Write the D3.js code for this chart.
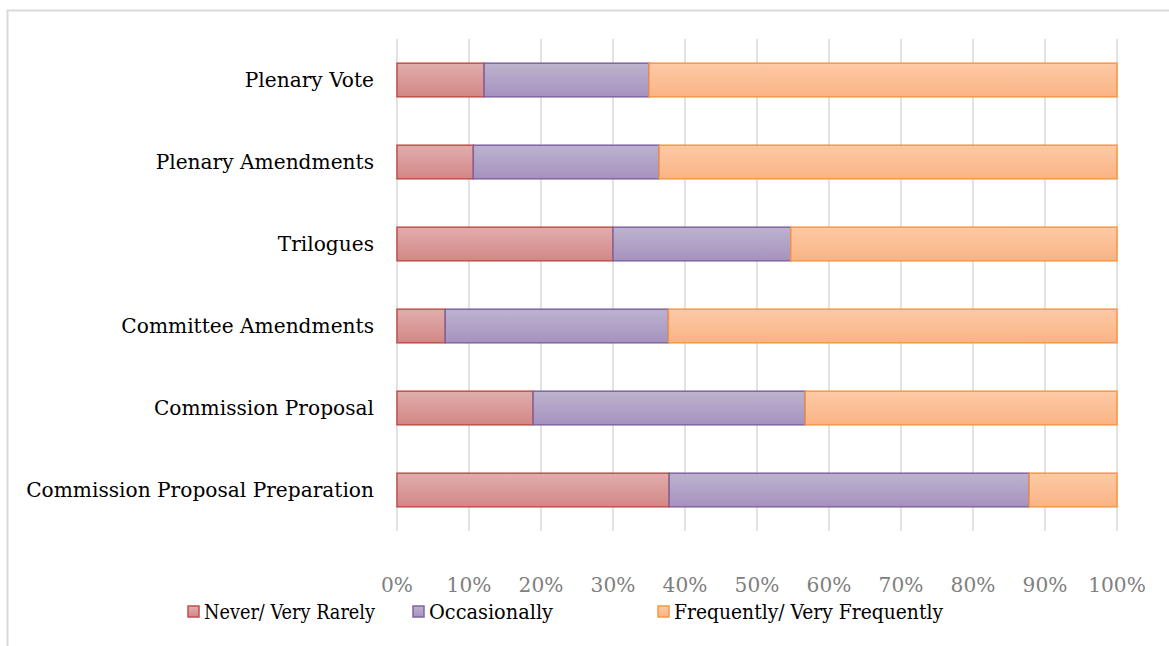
<!DOCTYPE html>
<html>
<head>
<meta charset="utf-8">
<script src="https://cdn.jsdelivr.net/npm/d3@7"></script>
<style>
  body { margin: 0; background: #fff; }
  text { font-family: "DejaVu Serif", "Liberation Serif", serif; }
</style>
</head>
<body>
<svg width="1169" height="646"></svg>
<script>
const stages = ["Plenary Vote", "Plenary Amendments", "Trilogues", "Committee Amendments",
  "Commission Proposal", "Commission Proposal Preparation"];
const seriesNames = ["Never/ Very Rarely", "Occasionally", "Frequently/ Very Frequently"];
const never = [12.1, 10.6, 30.0, 6.7, 18.9, 37.8];
const occasionally = [22.9, 25.8, 24.7, 31.0, 37.8, 50.0];
const frequently = [65.0, 63.6, 45.3, 62.3, 43.3, 12.2];
const ticks = [0, 10, 20, 30, 40, 50, 60, 70, 80, 90, 100];

const svg = d3.select("svg");
const width = +svg.attr("width");
const height = +svg.attr("height");

const fills = [["#e0aead", "#d38785"], ["#bdb3ce", "#a592bf"], ["#fdcaa6", "#fab384"]];
const strokes = ["#c0504d", "#8064a2", "#f79646"];

// font size so the longest label is about as wide as in the original (Cambria)
const probe = svg.append("text").attr("font-size", "20px").text(stages[5]);
const fs = 20 * 348 / probe.node().getComputedTextLength();
probe.remove();

// frame
svg.append("path")
  .attr("d", `M7.5,${height} V10.5 H${width}`)
  .attr("fill", "none")
  .attr("stroke", "#d9d9d9")
  .attr("stroke-width", 2);

const defs = svg.append("defs");
fills.forEach((f, i) => {
  const g = defs.append("linearGradient")
    .attr("id", "grad" + i)
    .attr("x1", 0).attr("y1", 0).attr("x2", 0).attr("y2", 1);
  g.append("stop").attr("offset", "0%").attr("stop-color", f[0]);
  g.append("stop").attr("offset", "100%").attr("stop-color", f[1]);
});

const x = d3.scaleLinear().domain([0, 100]).range([397, 1117]);
const y = d3.scaleBand().domain(stages).range([39, 531]).paddingInner(0.59).paddingOuter(0.295);

// GRID
svg.append("g")
  .selectAll("line")
  .data(ticks)
  .join("line")
  .attr("x1", d => x(d)).attr("x2", d => x(d))
  .attr("y1", 39).attr("y2", 531)
  .attr("stroke", "#d9d9d9")
  .attr("stroke-width", 1.5);

// STACK
const rows = stages.map((s, i) => ({ stage: s, 0: never[i], 1: occasionally[i], 2: frequently[i] }));
const stacked = d3.stack().keys([0, 1, 2])(rows);

stacked.forEach((layer, k) => {
  svg.append("g")
    .selectAll("rect")
    .data(layer)
    .join("rect")
    .attr("x", d => x(d[0]))
    .attr("y", d => y(d.data.stage))
    .attr("width", d => x(d[1]) - x(d[0]))
    .attr("height", y.bandwidth())
    .attr("fill", `url(#grad${k})`)
    .attr("stroke", strokes[k])
    .attr("stroke-width", 1.5);
});

// Y labels
svg.append("g")
  .selectAll("text")
  .data(stages)
  .join("text")
  .attr("x", 374)
  .attr("y", d => y(d) + y.bandwidth() / 2)
  .attr("dy", "0.35em")
  .attr("text-anchor", "end")
  .attr("font-size", fs + "px")
  .attr("fill", "#000")
  .text(d => d);

// X tick labels
svg.append("g")
  .selectAll("text")
  .data(ticks)
  .join("text")
  .attr("x", d => x(d))
  .attr("y", 585)
  .attr("dy", "0.35em")
  .attr("text-anchor", "middle")
  .attr("font-size", fs + "px")
  .attr("fill", "#808080")
  .text(d => d + "%");

// LEGEND
const legendX = [188, 413, 658];
const legendW = [171, 124, 269];
const legend = svg.append("g")
  .selectAll("g")
  .data(seriesNames)
  .join("g")
  .attr("transform", (d, i) => `translate(${legendX[i]}, 612)`);

legend.append("rect")
  .attr("x", 0).attr("y", -6)
  .attr("width", 11).attr("height", 11)
  .attr("fill", (d, i) => `url(#grad${i})`)
  .attr("stroke", (d, i) => strokes[i])
  .attr("stroke-width", 1.5);

legend.append("text")
  .attr("x", 16)
  .attr("dy", "0.35em")
  .attr("font-size", fs + "px")
  .attr("fill", "#000")
  .attr("textLength", (d, i) => legendW[i])
  .attr("lengthAdjust", "spacingAndGlyphs")
  .text(d => d);
</script>
</body>
</html>
